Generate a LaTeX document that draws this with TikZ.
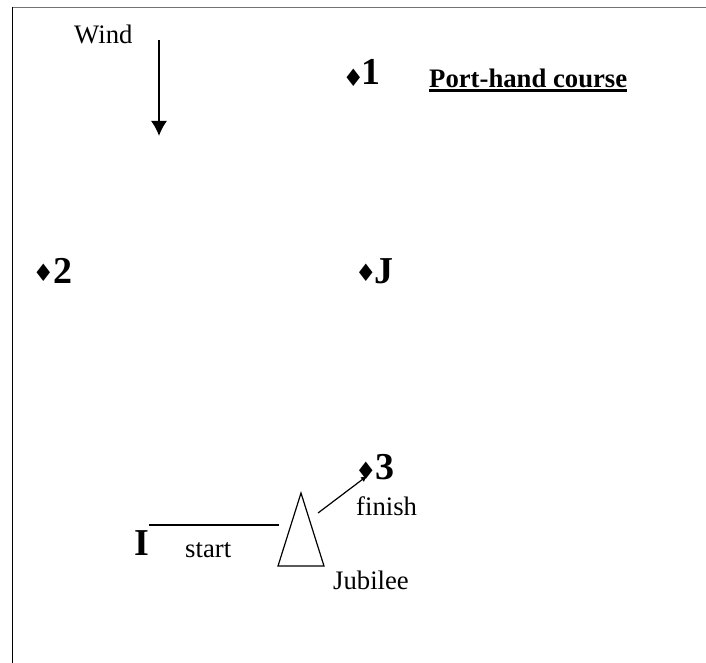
\documentclass[tikz,border=0pt]{standalone}
\usepackage{fontspec}
\usetikzlibrary{arrows.meta}
\setmainfont{Liberation Serif}
\newfontfamily\symfont{DejaVu Sans}
\tikzset{
  lab/.style={inner sep=0pt,font=\fontsize{26.7}{30}\selectfont},
  big/.style={inner sep=0pt,font=\fontsize{38}{40}\selectfont\bfseries},
  dia/.style={inner sep=0pt,font=\fontsize{24}{24}\selectfont\symfont},
  ln/.style={line width=1.2pt}
}
\begin{document}
\begin{tikzpicture}[x=1pt,y=-1pt]
\useasboundingbox (0,0) rectangle (706,663);
\coordinate (b0) at (12.5,663);
\coordinate (b1) at (12.5,7.5);
\coordinate (b2) at (706,7.5);
\draw[line width=0.9pt] (b0) -- (b1);
\draw[line width=0.9pt,black!55] (b1) -- (b2);
\node[lab,anchor=base west] (wind) at (74,44) {Wind};
\coordinate (w1) at (159,40);
\coordinate (w2) at (159,136);
\draw[line width=1.8pt,-{Latex[length=15pt,width=16pt]}] (w1) -- (w2);
\node[dia] (d1) at (353.5,78) {♦};
\node[big,anchor=base west] (n1) at (361,85) {1};
\node[inner sep=0pt,anchor=base west,font=\fontsize{26.7}{30}\selectfont\bfseries] (title) at (429,88) {Port-hand course};
\coordinate (u1) at (429,90.5);
\coordinate (u2) at (627,90.5);
\draw[line width=2.4pt] (u1) -- (u2);
\node[dia] (d2) at (43.5,273) {♦};
\node[big,anchor=base west] (n2) at (53,283) {2};
\node[dia] (dj) at (366,273) {♦};
\node[big,anchor=base west] (nj) at (374,283) {J};
\node[dia] (d3) at (366,471) {♦};
\node[big,anchor=base west] (n3) at (375,479) {3};
\node[big,anchor=base west] (ni) at (134,555) {I};
\node[lab,anchor=base west] (start) at (185,557) {start};
\node[lab,anchor=base west] (finish) at (356,515) {finish};
\node[lab,anchor=base west] (jub) at (333,589) {Jubilee};
\coordinate (s1) at (149,525);
\coordinate (s2) at (279,525);
\draw[ln] (s1) -- (s2);
\coordinate (t1) at (301,493);
\coordinate (t2) at (278,566);
\coordinate (t3) at (324,566);
\draw[ln] (t1) -- (t2) -- (t3) -- cycle;
\coordinate (f1) at (318,513);
\coordinate (f2) at (367,476);
\draw[ln,-{Latex[length=6pt,width=6pt]}] (f1) -- (f2);
\end{tikzpicture}
\end{document}
